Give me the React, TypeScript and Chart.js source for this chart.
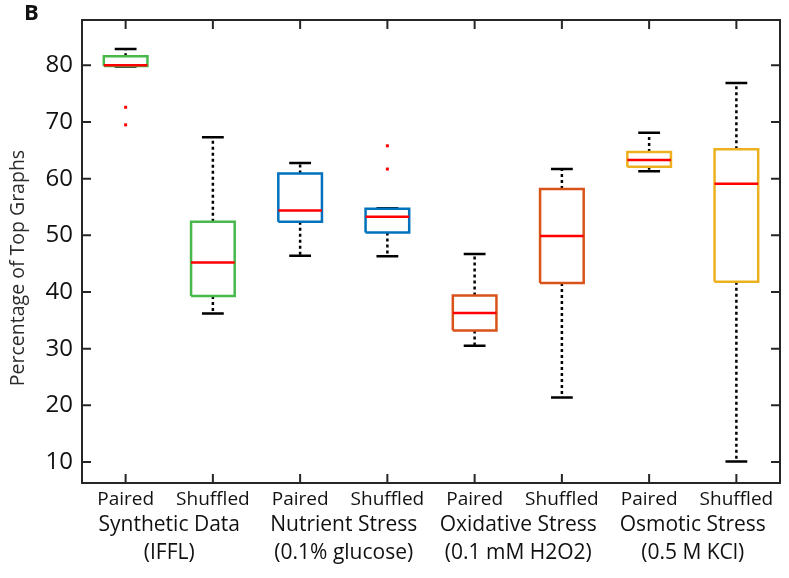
import React, { useEffect, useRef } from "react";
import { Chart, registerables } from "chart.js";

Chart.register(...registerables);

const categories = ["Paired", "Shuffled", "Paired", "Shuffled", "Paired", "Shuffled", "Paired", "Shuffled"];
const groupLine1 = ["Synthetic Data", "Nutrient Stress", "Oxidative Stress", "Osmotic Stress"];
const groupLine2 = ["(IFFL)", "(0.1% glucose)", "(0.1 mM H2O2)", "(0.5 M KCl)"];
const yTicks = [10, 20, 30, 40, 50, 60, 70, 80];
const yTitle = "Percentage of Top Graphs";
const panelLabel = "B";

const whiskerLow = [79.8, 36.2, 46.4, 46.3, 30.5, 21.4, 61.3, 10.1];
const q1 = [79.9, 39.3, 52.4, 50.5, 33.2, 41.6, 62.1, 41.8];
const median = [80.0, 45.2, 54.4, 53.3, 36.3, 49.9, 63.3, 59.1];
const q3 = [81.6, 52.4, 60.9, 54.7, 39.4, 58.2, 64.7, 65.2];
const whiskerHigh = [82.9, 67.3, 62.75, 54.8, 46.7, 61.7, 68.1, 76.9];
const outliers = [[72.6, 69.5], [], [], [65.8, 61.7], [], [], [], []];

const boxColors = ["#46B94A", "#46B94A", "#0072BD", "#0072BD", "#D95319", "#D95319", "#EDB120", "#EDB120"];

const FONT = "'Open Sans', sans-serif";
const AXIS_COLOR = "#262626";
const HALF_BOX = 0.25;
const HALF_CAP = 0.125;

const framePlugin = {
  id: "frame",
  afterDraw(chart: any) {
    const { ctx, chartArea, scales } = chart;
    const { left, right, top, bottom } = chartArea;
    const tl = 9;
    ctx.save();
    ctx.strokeStyle = AXIS_COLOR;
    ctx.lineWidth = 2;
    ctx.beginPath();
    ctx.rect(left, top, right - left, bottom - top);
    ctx.stroke();
    ctx.beginPath();
    scales.x.ticks.forEach((t: any) => {
      const px = scales.x.getPixelForValue(t.value);
      ctx.moveTo(px, bottom);
      ctx.lineTo(px, bottom - tl);
      ctx.moveTo(px, top);
      ctx.lineTo(px, top + tl);
    });
    scales.y.ticks.forEach((t: any) => {
      const py = scales.y.getPixelForValue(t.value);
      ctx.moveTo(left, py);
      ctx.lineTo(left + tl, py);
      ctx.moveTo(right, py);
      ctx.lineTo(right - tl, py);
    });
    ctx.stroke();

    // panel label
    ctx.fillStyle = "#111";
    ctx.font = `bold 22px ${FONT}`;
    ctx.textBaseline = "top";
    ctx.textAlign = "left";
    ctx.fillText(panelLabel, 24, 3);

    // y-axis title (offset below the axis centre as in the original)
    ctx.translate(18, 268);
    ctx.rotate(-Math.PI / 2);
    ctx.fillStyle = "#2b2b2b";
    ctx.font = `19.5px ${FONT}`;
    ctx.textAlign = "center";
    ctx.textBaseline = "middle";
    ctx.fillText(yTitle, 0, 0);
    ctx.restore();
  },
};

export default function App() {
  const ref = useRef<HTMLCanvasElement | null>(null);

  useEffect(() => {
    if (!ref.current) return;
    const xs = categories.map((_, i) => i + 1);

    const boxDatasets = xs.map((x, i) => ({
      type: "line" as const,
      data: [
        { x: x - HALF_BOX, y: q1[i] },
        { x: x + HALF_BOX, y: q1[i] },
        { x: x + HALF_BOX, y: q3[i] },
        { x: x - HALF_BOX, y: q3[i] },
        { x: x - HALF_BOX, y: q1[i] },
      ],
      borderColor: boxColors[i],
      borderWidth: 2.5,
      pointRadius: 0,
      fill: false,
      tension: 0,
    }));

    const medianData: any[] = [];
    const whiskerData: any[] = [];
    const capData: any[] = [];
    const outlierData: any[] = [];
    xs.forEach((x, i) => {
      medianData.push({ x: x - HALF_BOX, y: median[i] }, { x: x + HALF_BOX, y: median[i] }, { x, y: null });
      whiskerData.push({ x, y: q3[i] }, { x, y: whiskerHigh[i] }, { x, y: null });
      whiskerData.push({ x, y: q1[i] }, { x, y: whiskerLow[i] }, { x, y: null });
      capData.push({ x: x - HALF_CAP, y: whiskerHigh[i] }, { x: x + HALF_CAP, y: whiskerHigh[i] }, { x, y: null });
      capData.push({ x: x - HALF_CAP, y: whiskerLow[i] }, { x: x + HALF_CAP, y: whiskerLow[i] }, { x, y: null });
      outliers[i].forEach((v) => outlierData.push({ x, y: v }));
    });

    const chart = new Chart(ref.current, {
      type: "line",
      data: {
        datasets: [
          {
            type: "line",
            data: medianData,
            borderColor: "#FF0000",
            borderWidth: 2.5,
            pointRadius: 0,
            spanGaps: false,
          } as any,
          {
            type: "scatter",
            data: outlierData,
            pointStyle: "rect",
            pointRadius: 2.1,
            backgroundColor: "#FF0000",
            borderColor: "#FF0000",
            borderWidth: 0,
            showLine: false,
          } as any,
          ...boxDatasets,
          {
            type: "line",
            data: capData,
            borderColor: "#000000",
            borderWidth: 2.5,
            pointRadius: 0,
            spanGaps: false,
          } as any,
          {
            type: "line",
            data: whiskerData,
            borderColor: "#000000",
            borderWidth: 2.5,
            borderDash: [3, 3],
            pointRadius: 0,
            spanGaps: false,
          } as any,
        ],
      },
      options: {
        animation: false,
        responsive: false,
        maintainAspectRatio: false,
        layout: { padding: { top: 20, right: 9, left: 0, bottom: 0 } },
        plugins: { legend: { display: false }, tooltip: { enabled: false } },
        scales: {
          x: {
            type: "linear",
            position: "bottom",
            min: 0.5,
            max: 8.5,
            afterBuildTicks: (axis: any) => {
              axis.ticks = xs.map((v) => ({ value: v }));
            },
            afterFit: (axis: any) => {
              axis.height = 28;
              axis.paddingLeft = 0;
              axis.paddingRight = 0;
            },
            grid: { display: false, drawTicks: false },
            border: { display: false },
            ticks: {
              padding: 5,
              autoSkip: false,
              maxRotation: 0,
              color: "#111",
              font: { family: FONT, size: 19, lineHeight: 1.2 },
              callback: (v: any) => categories[Math.round(Number(v)) - 1] ?? "",
            },
          },
          x2: {
            type: "linear",
            position: "bottom",
            min: 0.5,
            max: 8.5,
            afterBuildTicks: (axis: any) => {
              axis.ticks = groupLine1.map((_, i) => ({ value: 2 * i + 1.5 }));
            },
            afterFit: (axis: any) => {
              axis.height = 67;
              axis.paddingLeft = 0;
              axis.paddingRight = 0;
            },
            grid: { display: false, drawTicks: false },
            border: { display: false },
            ticks: {
              padding: 0,
              autoSkip: false,
              maxRotation: 0,
              color: "#111",
              font: { family: FONT, size: 21, lineHeight: 1.33 },
              callback: (v: any) => {
                const i = Math.round((Number(v) - 1.5) / 2);
                return [groupLine1[i], groupLine2[i]];
              },
            },
          },
          y: {
            type: "linear",
            min: 6.3,
            max: 88,
            afterBuildTicks: (axis: any) => {
              axis.ticks = yTicks.map((v) => ({ value: v }));
            },
            afterFit: (axis: any) => {
              axis.width = 82;
              axis.paddingTop = 0;
              axis.paddingBottom = 0;
            },
            grid: { display: false, drawTicks: false },
            border: { display: false },
            ticks: {
              padding: 9,
              color: "#111",
              font: { family: FONT, size: 24 },
            },
          },
        },
      } as any,
      plugins: [framePlugin],
    });
    return () => chart.destroy();
  }, []);

  return (
    <div style={{ position: "fixed", left: 0, top: 0, width: 789, height: 578, background: "#fff" }}>
      <canvas ref={ref} width={789} height={578} style={{ width: 789, height: 578, display: "block" }} />
    </div>
  );
}
